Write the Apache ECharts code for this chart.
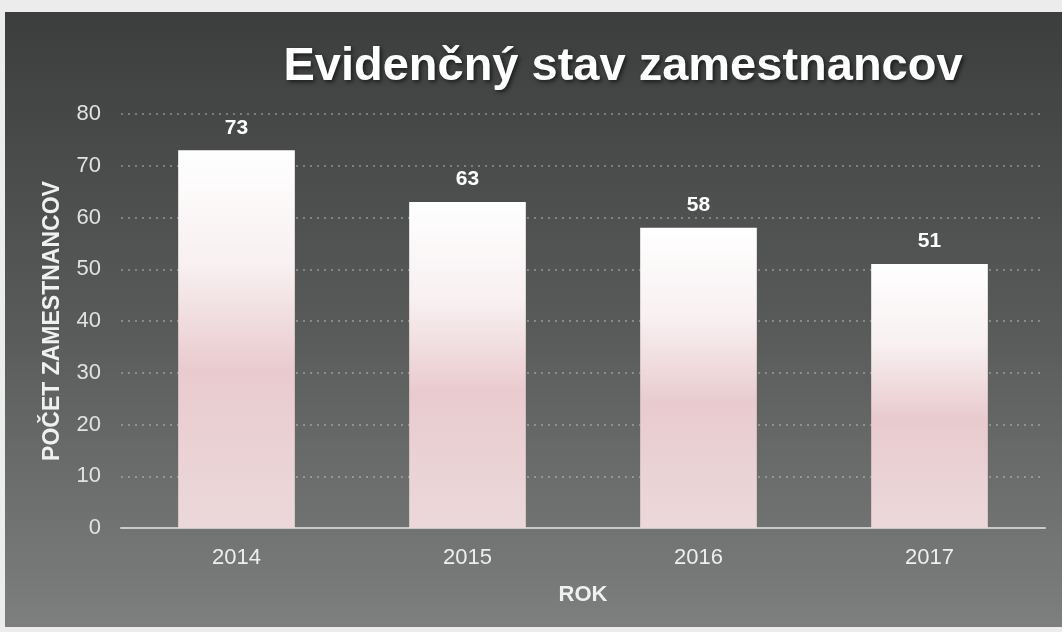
<!DOCTYPE html>
<html>
<head>
<meta charset="utf-8">
<script src="https://cdn.jsdelivr.net/npm/echarts@6/dist/echarts.min.js"></script>
<style>
  html, body { margin: 0; padding: 0; background: #ececec; }
  #chart { position: absolute; left: 5px; top: 12px; width: 1057px; height: 615px; }
</style>
</head>
<body>
<div id="chart"></div>
<script>
// údaje z grafu
const roky = ["2014", "2015", "2016", "2017"];
const pocty = [73, 63, 58, 51];

const chart = echarts.init(document.getElementById("chart"));

const stlpec = new echarts.graphic.LinearGradient(0, 0, 0, 1, [
  { offset: 0, color: "#ffffff" },
  { offset: 0.3, color: "#f8f0f1" },
  { offset: 0.58, color: "#e9cbcf" },
  { offset: 1, color: "#ebd8da" }
]);

const option = {
  backgroundColor: new echarts.graphic.LinearGradient(0, 0, 0, 1, [
    { offset: 0, color: "#3b3e3d" },
    { offset: 0.5, color: "#575a59" },
    { offset: 1, color: "#7c7f7e" }
  ]),
  title: {
    text: "Evidenčný stav zamestnancov",
    left: 613,
    top: 27,
    textAlign: "center",
    textStyle: {
      color: "#ffffff",
      fontFamily: "Liberation Sans",
      fontWeight: "bold",
      fontSize: 47,
      textShadowColor: "rgba(0,0,0,0.6)",
      textShadowBlur: 4,
      textShadowOffsetX: 2,
      textShadowOffsetY: 2
    }
  },
  grid: { left: 116, right: 17, top: 102, bottom: 99 },
  xAxis: {
    type: "category",
    data: roky,
    name: "ROK",
    nameLocation: "middle",
    nameGap: 56,
    nameTextStyle: { color: "#f0f0f0", fontSize: 22, fontWeight: "bold", fontFamily: "Liberation Sans" },
    axisLine: { lineStyle: { color: "#c8cbca", width: 2 } },
    axisTick: { show: false },
    axisLabel: { color: "#eeeeee", fontSize: 22, margin: 19, fontFamily: "Liberation Sans" }
  },
  yAxis: {
    type: "value",
    min: 0,
    max: 80,
    interval: 10,
    name: "POČET ZAMESTNANCOV",
    nameLocation: "middle",
    nameGap: 57,
    nameTextStyle: { color: "#f0f0f0", fontSize: 23, fontWeight: "bold", fontFamily: "Liberation Sans" },
    axisLine: { show: false },
    axisTick: { show: false },
    axisLabel: { color: "#e2e2e2", fontSize: 22, margin: 20, fontFamily: "Liberation Sans" },
    splitLine: { lineStyle: { color: "rgba(220,220,220,0.5)", type: [2, 5], width: 1.5 } }
  },
  series: [{
    type: "bar",
    data: pocty,
    barWidth: "50.5%",
    itemStyle: { color: stlpec },
    label: {
      show: true,
      position: "top",
      distance: 12,
      color: "#ffffff",
      fontSize: 21,
      fontWeight: "bold",
      fontFamily: "Liberation Sans"
    }
  }]
};

chart.setOption(option);
</script>
</body>
</html>
